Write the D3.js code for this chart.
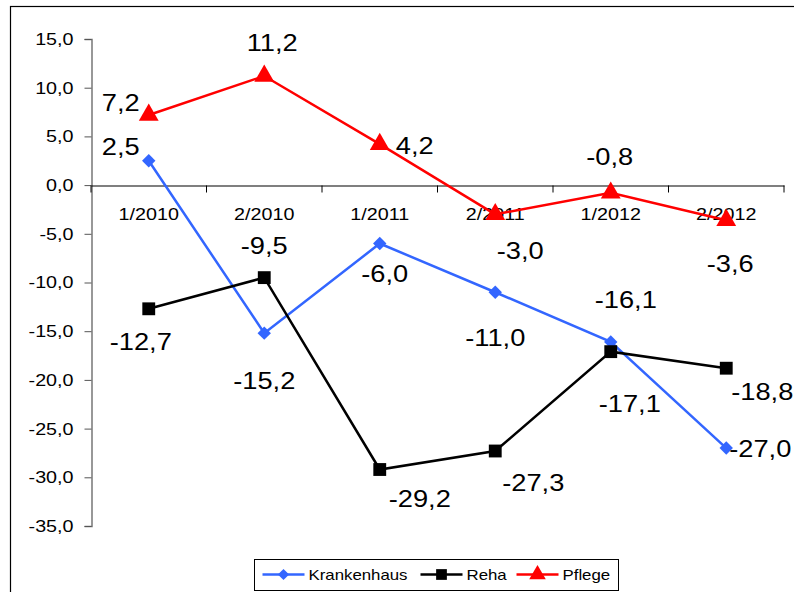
<!DOCTYPE html>
<html>
<head>
<meta charset="utf-8">
<script src="https://cdn.jsdelivr.net/npm/d3@7"></script>
<style>
  body { margin: 0; background: #fff; }
  svg { font-family: Arial, "Liberation Sans", sans-serif; }
</style>
</head>
<body>
<svg id="chart" width="794" height="592"></svg>
<script>
const categories = ["1/2010", "2/2010", "1/2011", "2/2011", "1/2012", "2/2012"];
const krankenhaus = [2.5, -15.2, -6.0, -11.0, -16.1, -27.0];
const reha = [-12.7, -9.5, -29.2, -27.3, -17.1, -18.8];
const pflege = [7.2, 11.2, 4.2, -3.0, -0.8, -3.6];
const yTicks = [15, 10, 5, 0, -5, -10, -15, -20, -25, -30, -35];

// where each data label sits relative to its point (dx, dy of text centre)
const labelOffsets = {
    Krankenhaus: [[-28, -14], [0, 47], [5, 30], [0, 45], [15, -42], [34, 0]],
    Reha: [[-8, 33], [0, -32], [40, 29], [38, 32], [19, 52], [36, 23]],
    Pflege: [[-28, -12], [8, -33], [35, 1], [25, 36], [-1, -36], [4, 43]]
};

// the original picture is a little wider than tall, text looks stretched
const stretch = 1.16;

const series = [
    { name: "Krankenhaus", values: krankenhaus, color: "#3366ff", symbol: d3.symbolSquare, size: 90, rot: 45 },
    { name: "Reha", values: reha, color: "#000000", symbol: d3.symbolSquare, size: 165, rot: 0 },
    { name: "Pflege", values: pflege, color: "#ff0000", symbol: d3.symbolTriangle, size: 170, rot: 0 }
];

const svg = d3.select("#chart");
const fmt = v => d3.format(".1f")(v).replace(".", ",").replace("−", "-");

// outer frame
svg.append("rect")
    .attr("x", 10.5).attr("y", 6.5)
    .attr("width", 800).attr("height", 600)
    .attr("fill", "none").attr("stroke", "#000").attr("stroke-width", 1.2);

const x = d3.scaleBand().domain(categories).range([91, 784]);
const y = d3.scaleLinear().domain([-35, 15]).range([526, 39]);

const yAxis = svg.append("g")
    .attr("transform", "translate(91.5,0)")
    .call(d3.axisLeft(y).tickValues(yTicks).tickSize(7).tickPadding(8.5).tickFormat(fmt));
yAxis.select(".domain").attr("stroke", "#777").attr("stroke-width", 1.5);
yAxis.selectAll(".tick line").attr("stroke", "#555");
yAxis.selectAll("text")
    .style("font-size", "17px").attr("fill", "#000")
    .attr("transform", `scale(${stretch},1)`);

const xAxis = svg.append("g")
    .attr("transform", `translate(0,${Math.round(y(0)) + 0.5})`)
    .call(d3.axisBottom(x).tickSize(0).tickPadding(22));
xAxis.select(".domain").attr("stroke", "#000").attr("stroke-width", 1.2);
xAxis.selectAll("text")
    .style("font-size", "17px").attr("fill", "#000")
    .attr("transform", `scale(${stretch},1)`);
xAxis.selectAll(".bound")
    .data(d3.range(categories.length + 1))
    .join("line")
    .attr("x1", i => x.range()[0] + i * x.bandwidth())
    .attr("x2", i => x.range()[0] + i * x.bandwidth())
    .attr("y1", 0).attr("y2", 7)
    .attr("stroke", "#000");

const cx = c => x(c) + x.bandwidth() / 2;
const line = d3.line().x((d, i) => cx(categories[i])).y(d => y(d));

series.forEach(s => {
    const g = svg.append("g");
    g.append("path")
        .datum(s.values)
        .attr("d", line)
        .attr("fill", "none")
        .attr("stroke", s.color)
        .attr("stroke-width", 2.5);
    g.selectAll(".pt")
        .data(s.values)
        .join("path")
        .attr("transform", (d, i) => `translate(${cx(categories[i])},${y(d)}) rotate(${s.rot})`)
        .attr("d", d3.symbol().type(s.symbol).size(s.size))
        .attr("fill", s.color);
});

series.forEach(s => {
    svg.append("g").selectAll("text")
        .data(s.values)
        .join("text")
        .attr("transform", (d, i) =>
            `translate(${cx(categories[i]) + labelOffsets[s.name][i][0]},${y(d) + labelOffsets[s.name][i][1]}) scale(${stretch},1)`)
        .attr("text-anchor", "middle")
        .attr("dy", "0.36em")
        .style("font-size", "23.5px")
        .text(d => fmt(d));
});

// legend
const legend = svg.append("g").attr("transform", "translate(254.5,559.5)");
legend.append("rect").attr("width", 364).attr("height", 31)
    .attr("fill", "#fff").attr("stroke", "#000");
const items = [
    { s: series[0], x: 8 },
    { s: series[1], x: 166 },
    { s: series[2], x: 262 }
];
items.forEach(it => {
    const g = legend.append("g").attr("transform", `translate(${it.x},15)`);
    g.append("line").attr("x1", 0).attr("x2", 42).attr("stroke", it.s.color).attr("stroke-width", 2.5);
    g.append("path").attr("transform", `translate(21,0) rotate(${it.s.rot})`)
        .attr("d", d3.symbol().type(it.s.symbol).size(it.s.size * 0.7))
        .attr("fill", it.s.color);
    g.append("text")
        .attr("transform", `translate(46,0) scale(${stretch},1)`)
        .attr("dy", "0.36em")
        .style("font-size", "14.5px").text(it.s.name);
});
</script>
</body>
</html>
